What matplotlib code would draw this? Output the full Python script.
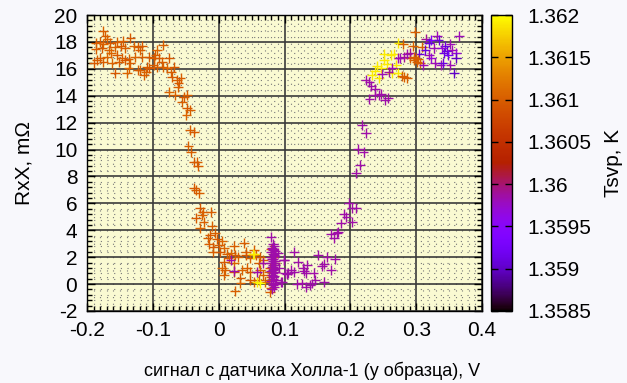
import numpy as np
import matplotlib
matplotlib.use('Agg')
import matplotlib.pyplot as plt
from matplotlib.ticker import MultipleLocator, FuncFormatter

plt.rcParams['font.family'] = ['Liberation Sans', 'DejaVu Sans']
plt.rcParams['axes.unicode_minus'] = False

# descending branch, sweep from negative field (T ~ 1.3610 K)
x_down = [-0.176, -0.172, -0.169, -0.180, -0.186, -0.175, -0.165, -0.154, -0.145, -0.134,
          -0.187, -0.177, -0.167, -0.158, -0.149, -0.142, -0.129, -0.122, -0.116, -0.119,
          -0.164, -0.155, -0.147, -0.137, -0.170, -0.180, -0.185, -0.189, -0.175, -0.162,
          -0.152, -0.142, -0.134, -0.127, -0.116, -0.106, -0.099, -0.096, -0.091, -0.094,
          -0.085, -0.076, -0.086, -0.084, -0.078, -0.068, -0.073, -0.071, -0.063, -0.058,
          -0.061, -0.062, -0.076, -0.066, -0.053, -0.048, -0.056, -0.048, -0.043, -0.049,
          -0.119, -0.111, -0.106, -0.114, -0.122, -0.139, -0.157, -0.099, -0.094, -0.137,
          -0.109, -0.043, -0.037, -0.046, -0.042, -0.038, -0.033, -0.031, -0.038, -0.034,
          -0.030, -0.028, -0.024, -0.012, -0.025, -0.035, -0.023, -0.010, -0.028, -0.013,
          -0.005, -0.017, -0.003, 0.005, -0.015, -0.008, 0.000, 0.008, -0.009, 0.002,
          0.013, 0.019, 0.023, 0.025, 0.038, 0.041, 0.053, 0.008, 0.015, 0.023,
          0.030, 0.041, 0.048, 0.056, 0.063, 0.068, 0.005, 0.010, 0.023, 0.035,
          0.043, 0.048, 0.061, 0.063, 0.068, 0.033, 0.008, 0.033, 0.025, 0.048,
          0.053, 0.061, 0.071, 0.076, 0.078, 0.079, 0.080, 0.078, 0.082, 0.079,
          0.077, 0.085]
y_down = [18.84, 18.46, 18.22, 17.97, 17.89, 17.82, 17.89, 17.97, 18.07, 18.27,
          17.47, 17.52, 17.40, 17.60, 17.72, 17.52, 17.72, 17.60, 17.72, 17.40,
          17.15, 17.03, 16.83, 16.73, 16.90, 16.78, 16.66, 16.46, 16.53, 16.41,
          16.53, 16.66, 16.41, 16.90, 16.90, 16.90, 16.83, 17.03, 16.78, 17.40,
          17.77, 16.83, 16.53, 16.16, 16.04, 16.16, 15.79, 15.42, 15.17, 15.29,
          14.92, 14.67, 14.30, 14.05, 13.93, 14.05, 13.51, 13.06, 12.94, 12.57,
          15.91, 15.79, 16.04, 15.54, 15.91, 15.66, 15.66, 16.28, 16.16, 16.04,
          16.16, 11.45, 11.33, 10.26, 9.79, 9.10, 9.05, 8.80, 7.17, 6.99,
          6.74, 5.63, 5.38, 5.33, 5.13, 4.89, 4.59, 4.34, 4.14, 3.65,
          3.77, 3.45, 3.35, 3.20, 2.95, 2.78, 2.90, 2.66, 2.41, 2.36,
          2.21, 2.28, 2.85, 2.16, 3.03, 2.41, 2.53, 1.67, 1.91, 1.54,
          2.04, 2.16, 1.91, 2.16, 2.04, 1.79, 1.17, 1.05, 0.92, 1.05,
          1.17, 0.92, 1.54, 1.05, 0.67, 0.43, 0.67, 0.05, -0.52, 0.30,
          0.18, 0.30, 0.18, 0.30, -0.56, -0.30, 0.50, 1.20, 2.00, 2.60,
          0.90, 1.60]
t_down = [1.36100, 1.36100, 1.36105, 1.36095, 1.36100, 1.36105, 1.36095, 1.36100, 1.36100, 1.36095,
          1.36100, 1.36095, 1.36105, 1.36100, 1.36095, 1.36100, 1.36105, 1.36100, 1.36095, 1.36100,
          1.36105, 1.36095, 1.36100, 1.36100, 1.36105, 1.36095, 1.36100, 1.36095, 1.36100, 1.36105,
          1.36100, 1.36095, 1.36100, 1.36105, 1.36100, 1.36095, 1.36100, 1.36100, 1.36095, 1.36105,
          1.36100, 1.36095, 1.36100, 1.36100, 1.36105, 1.36095, 1.36100, 1.36095, 1.36100, 1.36100,
          1.36095, 1.36100, 1.36105, 1.36100, 1.36095, 1.36100, 1.36100, 1.36095, 1.36100, 1.36105,
          1.36100, 1.36105, 1.36095, 1.36100, 1.36100, 1.36105, 1.36095, 1.36100, 1.36100, 1.36105,
          1.36095, 1.36100, 1.36095, 1.36100, 1.36100, 1.36095, 1.36100, 1.36100, 1.36095, 1.36100,
          1.36100, 1.36095, 1.36100, 1.36100, 1.36105, 1.36095, 1.36100, 1.36100, 1.36105, 1.36095,
          1.36100, 1.36100, 1.36095, 1.36105, 1.36100, 1.36095, 1.36100, 1.36105, 1.36100, 1.36095,
          1.36100, 1.36105, 1.36100, 1.36095, 1.36100, 1.36105, 1.36100, 1.36095, 1.36100, 1.36105,
          1.36100, 1.36095, 1.36105, 1.36100, 1.36095, 1.36100, 1.36105, 1.36100, 1.36095, 1.36105,
          1.36100, 1.36095, 1.36100, 1.36105, 1.36100, 1.36095, 1.36100, 1.36105, 1.36100, 1.36095,
          1.36100, 1.36105, 1.36100, 1.36095, 1.36100, 1.36100, 1.36105, 1.36095, 1.36100, 1.36105,
          1.36100, 1.36095]

# few warmer points near the bottom
x_warm = [0.052, 0.058, 0.063, 0.054]
y_warm = [2.21, 0.18, 0.05, 2.20]
t_warm = [1.3619, 1.3619, 1.3620, 1.3619]

# dense column near 0.08 V and the bottom purple group
x_col = [0.080, 0.082, 0.084, 0.081, 0.083, 0.085, 0.079, 0.082, 0.084, 0.086,
         0.080, 0.083, 0.081, 0.085, 0.082, 0.084, 0.080, 0.083, 0.086, 0.081,
         0.082, 0.084, 0.083, 0.080, 0.085, 0.082, 0.081, 0.084, 0.083, 0.082,
         0.087, 0.080, 0.083, 0.085, 0.082, 0.084, 0.081, 0.083, 0.090, 0.092,
         0.099, 0.101, 0.094, 0.068, 0.018, 0.023, 0.058]
y_col = [3.50, 2.95, 2.80, 2.70, 2.55, 2.45, 2.35, 2.25, 2.15, 2.10,
         2.00, 1.90, 1.85, 1.75, 1.70, 1.60, 1.55, 1.45, 1.40, 1.30,
         1.25, 1.15, 1.05, 1.00, 0.90, 0.80, 0.70, 0.60, 0.50, 0.40,
         0.30, 0.20, 0.10, 0.00, -0.10, -0.25, -0.40, 2.60, 2.30, 1.20,
         1.79, 0.80, 0.18, 1.54, 1.79, 0.97, 0.92]

x_bot = [0.115, 0.099, 0.121, 0.151, 0.165, 0.177, 0.160, 0.134, 0.128, 0.129,
         0.110, 0.106, 0.104, 0.114, 0.157, 0.170, 0.144, 0.133, 0.147, 0.160,
         0.142, 0.119, 0.127, 0.132, 0.139, 0.096]
y_bot = [2.36, 1.79, 1.62, 2.16, 2.04, 1.84, 1.47, 1.42, 1.17, 0.97,
         1.05, 0.80, 0.72, 0.92, 1.37, 1.05, 0.80, 0.80, 0.30, 0.18,
         0.05, -0.02, 0.05, -0.19, -0.07, 0.18]

# rising branch at positive signal
x_up = [0.170, 0.175, 0.180, 0.181, 0.186, 0.203, 0.190, 0.194, 0.198, 0.203,
        0.208, 0.208, 0.215, 0.212, 0.220, 0.218, 0.224, 0.229, 0.253, 0.257,
        0.237, 0.243, 0.246, 0.238, 0.232, 0.229, 0.223]
y_up = [3.70, 3.40, 3.77, 3.90, 4.51, 4.64, 5.18, 5.01, 6.00, 5.68,
        5.63, 8.28, 8.85, 10.04, 9.79, 11.82, 11.25, 13.76, 13.68, 13.86,
        14.05, 14.05, 14.10, 14.50, 14.75, 15.04, 15.17]

# upper right cluster, mixed temperatures
x_top = [0.298, 0.315, 0.322, 0.332, 0.334, 0.344, 0.352, 0.365, 0.273, 0.280,
         0.295, 0.309, 0.319, 0.327, 0.339, 0.347, 0.354, 0.360, 0.360, 0.342,
         0.349, 0.314, 0.304, 0.299, 0.296, 0.301, 0.291, 0.306, 0.311, 0.319,
         0.322, 0.329, 0.337, 0.340, 0.352, 0.357, 0.251, 0.261, 0.266, 0.251,
         0.241, 0.246, 0.256, 0.238, 0.233, 0.243, 0.263, 0.272, 0.269, 0.273,
         0.281, 0.286, 0.291, 0.276, 0.263, 0.258, 0.248, 0.278, 0.286, 0.281,
         0.297, 0.303]
y_top = [18.76, 18.22, 18.14, 18.46, 18.14, 17.72, 17.82, 18.46, 17.89, 17.82,
         17.72, 17.65, 17.89, 17.57, 17.52, 17.32, 17.40, 17.15, 16.78, 17.15,
         17.03, 17.40, 17.08, 16.78, 16.66, 16.53, 16.78, 16.41, 16.28, 17.03,
         16.78, 16.41, 16.28, 16.41, 16.28, 15.66, 17.08, 17.03, 17.08, 16.66,
         16.23, 16.04, 16.33, 15.84, 15.54, 15.29, 15.66, 15.66, 16.28, 16.78,
         16.90, 17.08, 17.15, 16.83, 16.04, 15.74, 15.59, 15.49, 15.29, 15.42,
         16.90, 16.70]
t_top = [1.3610, 1.3599, 1.3594, 1.3598, 1.3591, 1.3591, 1.3598, 1.3598, 1.3619, 1.3610,
         1.3610, 1.3610, 1.3591, 1.3598, 1.3597, 1.3591, 1.3598, 1.3597, 1.3590, 1.3591,
         1.3592, 1.3591, 1.3591, 1.3610, 1.3610, 1.3610, 1.3610, 1.3610, 1.3598, 1.3598,
         1.3597, 1.3598, 1.3598, 1.3591, 1.3598, 1.3590, 1.3619, 1.3619, 1.3619, 1.3619,
         1.3619, 1.3619, 1.3619, 1.3619, 1.3619, 1.3619, 1.3619, 1.3619, 1.3619, 1.3598,
         1.3599, 1.3598, 1.3599, 1.3598, 1.3598, 1.3599, 1.3598, 1.3610, 1.3610, 1.3610,
         1.3610, 1.3610]

t_purple = 1.35985

x_ticks = [-0.2, -0.1, 0, 0.1, 0.2, 0.3, 0.4]
y_ticks = list(range(-2, 21, 2))
cb_ticks = [1.3585, 1.359, 1.3595, 1.36, 1.3605, 1.361, 1.3615, 1.362]

xs = np.concatenate([x_down, x_warm, x_col, x_bot, x_up, x_top])
ys = np.concatenate([y_down, y_warm, y_col, y_bot, y_up, y_top])
ts = np.concatenate([t_down, t_warm,
                     np.full(len(x_col), t_purple),
                     np.full(len(x_bot), t_purple),
                     np.full(len(x_up), t_purple),
                     t_top])

fig = plt.figure(figsize=(6.27, 3.83), dpi=100)
fig.patch.set_facecolor('#f8f8fc')
ax = fig.add_axes([0.1388, 0.188, 0.630, 0.7728])
ax.set_facecolor('#fafad2')

sc = ax.scatter(xs, ys, c=ts, cmap='gnuplot', vmin=1.3585, vmax=1.362,
                marker='+', s=50, linewidths=1.0, zorder=3)

ax.set_xlim(-0.2, 0.4)
ax.set_ylim(-2, 20)
ax.set_xticks(x_ticks)
ax.set_yticks(y_ticks)
ax.xaxis.set_minor_locator(MultipleLocator(0.01))
ax.yaxis.set_minor_locator(MultipleLocator(0.4))
fmt = FuncFormatter(lambda v, p: '%g' % round(v, 6))
ax.xaxis.set_major_formatter(fmt)
ax.grid(which='major', color='#3a3a3a', lw=1.2, zorder=1)
ax.grid(which='minor', color='#777777', lw=0.8, ls=(0, (1, 5)), zorder=1)
ax.set_axisbelow(True)
ax.tick_params(which='both', direction='in', top=True, right=True, labelsize=15,
               color='black', width=1.0)
ax.tick_params(which='major', length=6, pad=7)
ax.tick_params(which='minor', length=3.5)
for s in ax.spines.values():
    s.set_linewidth(1.0)

ax.set_ylabel('RxX, m\u03a9', fontsize=15, labelpad=15)
fig.text(312 / 627, 1 - 371 / 383, 'сигнал с датчика Холла-1 (у образца), V',
         fontsize=13, ha='center', va='center')

cax = fig.add_axes([0.7831, 0.188, 0.0335, 0.7728])
cb = fig.colorbar(sc, cax=cax, ticks=cb_ticks)
cb.ax.yaxis.set_major_formatter(fmt)
cb.ax.tick_params(direction='in', left=True, right=True, length=5, width=1.0,
                  labelsize=15, pad=11)
cb.outline.set_linewidth(1.0)
cb.set_label('Tsvp, K', fontsize=15, labelpad=9)

fig.savefig('out.png', dpi=100, facecolor=fig.get_facecolor())
